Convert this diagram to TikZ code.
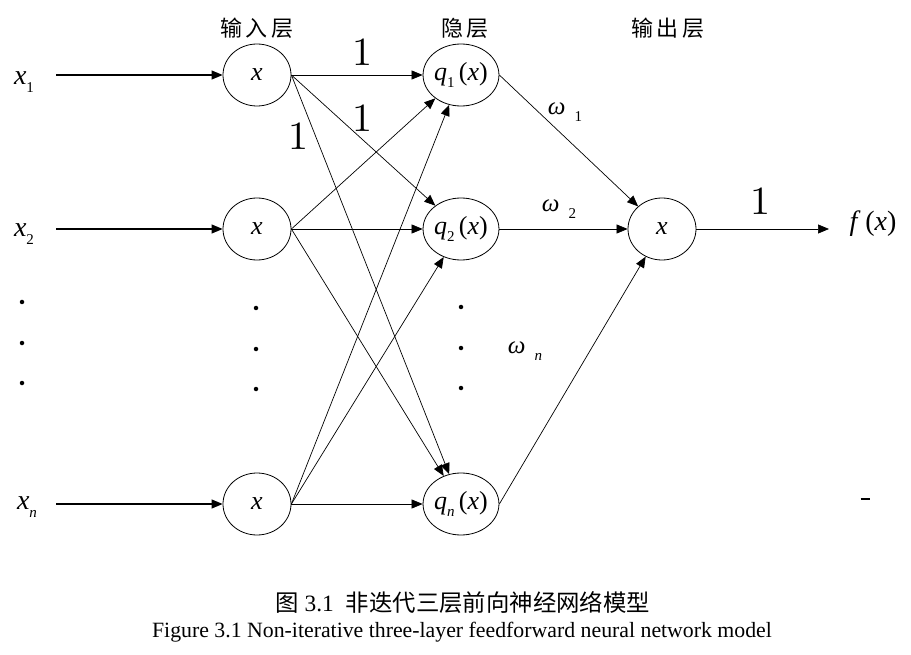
\documentclass[tikz,border=0pt]{standalone}
\usepackage{fontspec}
\setmainfont{Liberation Serif}
\newfontfamily\cjk{Noto Sans CJK SC}
\newfontfamily\lmr{lmroman10-regular}[Extension=.otf]
\usetikzlibrary{arrows.meta,shapes.geometric}
\newcommand\mysb[1]{\raisebox{-0.28em}{\fontsize{15}{15}\selectfont #1}}
\begin{document}
\begin{tikzpicture}[x=1pt,y=-1pt,
 neuron/.style={draw,ellipse,minimum width=68pt,minimum height=62pt,inner sep=0pt,line width=0.8pt},
 conn/.style={-{Triangle[length=11pt,width=9pt]},line width=0.7pt},
 inarrow/.style={conn,line width=1.1pt},
 lbl/.style={font=\fontsize{26}{28}\selectfont},
 xlbl/.style={font=\fontsize{28}{30}\selectfont},
 one/.style={font=\lmr\fontsize{40}{42}\selectfont},
 hdr/.style={font=\cjk\fontsize{22}{24}\selectfont},
 wlbl/.style={font=\fontsize{25}{26}\selectfont},
 dotc/.style={circle,fill,inner sep=0pt,minimum size=4.5pt}]
\useasboundingbox (0,0) rectangle (911,655);

% headers
\node[hdr] (hin) at (257,28) {输\,入\,层};
\node[hdr] (hhid) at (465,28) {隐\,层};
\node[hdr] (hout) at (668,28) {输\,出\,层};

% neurons
\node[neuron,lbl] (i1) at (257,75) {\textit{x}};
\node[neuron,lbl] (i2) at (257,229) {\textit{x}};
\node[neuron,lbl] (in) at (257,504) {\textit{x}};
\node[neuron,lbl] (h1) at (461,75) {\textit{q}\mysb{1}\,(\textit{x})};
\node[neuron,lbl] (h2) at (461,229) {\textit{q}\mysb{2}\,(\textit{x})};
\node[neuron,lbl] (hn) at (461,504) {\textit{q}\mysb{\textit{n}}\,(\textit{x})};
\node[neuron,lbl] (o) at (662,229) {\textit{x}};

% input labels
\node[xlbl] (lx1) at (24,82) {\textit{x}\mysb{1}};
\node[xlbl] (lx2) at (24,234) {\textit{x}\mysb{2}};
\node[xlbl] (lxn) at (27,507) {\textit{x}\mysb{\textit{n}}};
\coordinate (s1) at (56,75);
\coordinate (s2) at (56,229);
\coordinate (sn) at (56,504);

% dots
\foreach \y [count=\k] in {302,343,383} \node[dotc] (dl\k) at (22,\y) {};
\foreach \y [count=\k] in {308,349,389} \node[dotc] (dm\k) at (256,\y) {};
\foreach \y [count=\k] in {307,348,388} \node[dotc] (dh\k) at (461,\y) {};

% connectors
\draw[inarrow] (s1) -- (i1);
\draw[inarrow] (s2) -- (i2);
\draw[inarrow] (sn) -- (in);
\foreach \a in {i1,i2,in}
  \foreach \b in {h1,h2,hn}
    \draw[conn] (\a.east) -- (\b);
\draw[conn] (h1.east) -- (o);
\draw[conn] (h2) -- (o);
\draw[conn] (hn.east) -- (o);
\coordinate (fo) at (829,229);
\draw[conn] (o) -- (fo);
\node[xlbl] (fx) at (873,224) {\textit{f}\,(\textit{x})};

% weight labels
\node[one] (w11) at (362,52) {1};
\node[one] (w12) at (362,118) {1};
\node[one] (w13) at (298,136) {1};
\node[one] (wout) at (760,201) {1};
\node[wlbl] (om1) at (565,112) {\textit{ω}\hspace{9pt}\mysb{1}};
\node[wlbl] (om2) at (559,209) {\textit{ω}\hspace{9pt}\mysb{2}};
\node[wlbl] (omn) at (525,351) {\textit{ω}\hspace{9pt}\mysb{\textit{n}}};

% stray mark
\node (dash) at (865,499) {\rule{9pt}{1.8pt}};

% captions
\node[font=\cjk\fontsize{23.4}{26}\selectfont] (cap1) at (463,603) {图 {\rmfamily 3.1}\hspace{12pt}非迭代三层前向神经网络模型};
\node[font=\fontsize{21.8}{24}\selectfont] (cap2) at (462,632) {Figure 3.1 Non-iterative three-layer feedforward neural network model};
\end{tikzpicture}
\end{document}
